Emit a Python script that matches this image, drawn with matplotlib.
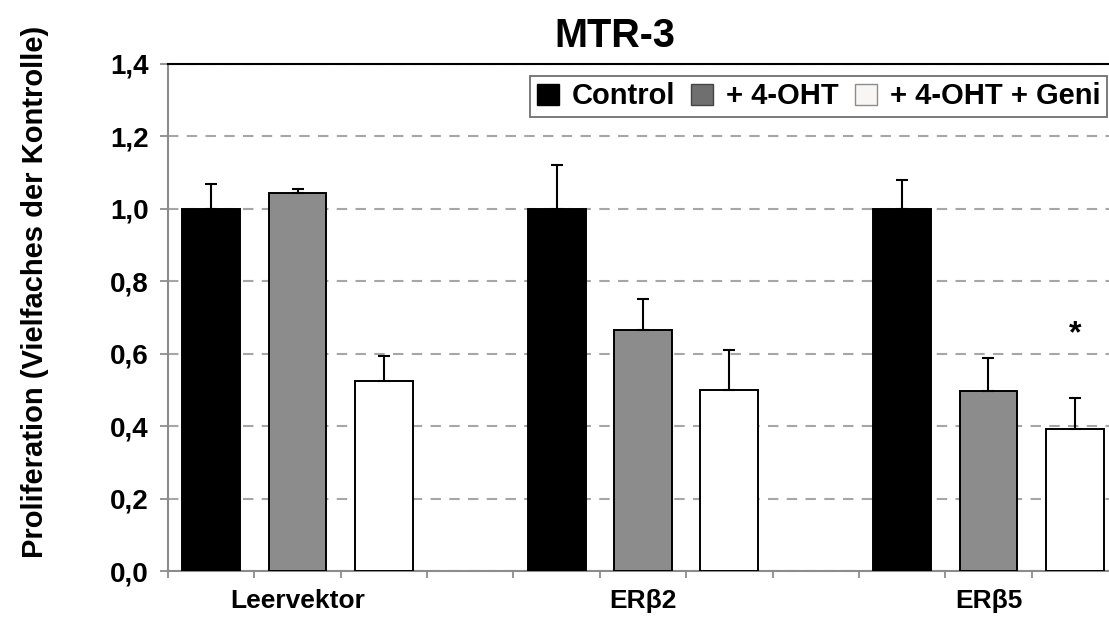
import matplotlib.pyplot as plt
import matplotlib.patches as mpatches
import numpy as np

plt.rcParams['font.family'] = ['Liberation Sans', 'DejaVu Sans']
plt.rcParams['font.weight'] = 'bold'

groups = ['Leervektor', 'ERβ2', 'ERβ5']
series = ['Control', '+ 4-OHT', '+ 4-OHT + Geni']
control = [1.0, 1.0, 1.0]
control_err = [0.07, 0.12, 0.08]
oht = [1.044, 0.665, 0.496]
oht_err = [0.012, 0.087, 0.092]
geni = [0.525, 0.50, 0.391]
geni_err = [0.068, 0.111, 0.087]
yticks = [0.0, 0.2, 0.4, 0.6, 0.8, 1.0, 1.2, 1.4]

COLORS = ['#000000', '#8c8c8c', '#ffffff']
GRID = '#a6a6a6'
SPINE = '#8c8c8c'

fig = plt.figure(figsize=(11.09, 6.17), dpi=100)
# axes extends past the right edge: the original chart is cropped there
ax = fig.add_axes([168 / 1109, 46 / 617, 950 / 1109, 507 / 617])

base = np.arange(len(groups)) * 4
width = 0.67
for i, (vals, errs) in enumerate([(control, control_err), (oht, oht_err), (geni, geni_err)]):
    ax.bar(base + i, vals, width, color=COLORS[i], edgecolor='black',
           linewidth=1.4, zorder=3)
    ax.errorbar(base + i, vals, yerr=[np.zeros(len(vals)), errs], fmt='none',
                ecolor='black', elinewidth=1.5, capsize=4.5, capthick=1.5, zorder=4)

ax.text(base[2] + 2, 0.655, '*', ha='center', va='center', fontsize=23,
        fontweight='bold', zorder=5)

ax.set_xlim(-0.5, 10.5)
ax.set_ylim(0, 1.4)
ax.set_yticks(yticks)
ax.set_yticklabels([f'{v:.1f}'.replace('.', ',') for v in yticks], fontsize=20,
                   fontweight='bold')
ax.set_xticks(base + 1)
ax.set_xticklabels(groups, fontsize=19, fontweight='bold')
ax.set_xticks(np.arange(-0.5, 11, 1), minor=True)
ax.tick_params(axis='x', which='major', length=0, pad=13)
ax.tick_params(axis='x', which='minor', length=5, width=1.3, color=SPINE)
ax.tick_params(axis='y', length=6, width=1.3, color=SPINE, pad=8)

ax.yaxis.grid(True, linestyle=(0, (5, 4)), color=GRID, linewidth=1.5, zorder=0)
ax.set_axisbelow(True)

ax.spines['left'].set_color(SPINE)
ax.spines['left'].set_linewidth(1.5)
ax.spines['bottom'].set_color(SPINE)
ax.spines['bottom'].set_linewidth(1.5)
ax.spines['top'].set_color('black')
ax.spines['top'].set_linewidth(1.5)
ax.spines['right'].set_visible(False)

fig.text(35 / 1109, 1 - 292 / 617, 'Proliferation (Vielfaches der Kontrolle)',
         rotation=90, ha='center', va='center', fontsize=21, fontweight='bold')
fig.text(615 / 1109, 1 - 36 / 617, 'MTR-3', ha='center', va='center',
         fontsize=28.5, fontweight='bold')

handles = [
    mpatches.Patch(facecolor='#000000', edgecolor='#000000', label=series[0]),
    mpatches.Patch(facecolor='#6f6f6f', edgecolor='#444444', label=series[1]),
    mpatches.Patch(facecolor='#f8f6f4', edgecolor='#8c8c8c', label=series[2]),
]
leg = ax.legend(handles=handles, ncol=3, loc='upper right',
                bbox_to_anchor=(1107 / 1109, 1 - 76 / 617),
                bbox_transform=fig.transFigure, borderaxespad=0,
                prop={'weight': 'bold', 'size': 21},
                handlelength=0.75, handleheight=0.75, handletextpad=0.45,
                columnspacing=0.55, borderpad=0.22, fancybox=False,
                framealpha=1, edgecolor='#6f6f6f')
leg.get_frame().set_linewidth(1.3)

plt.savefig('out.png', dpi=100)
